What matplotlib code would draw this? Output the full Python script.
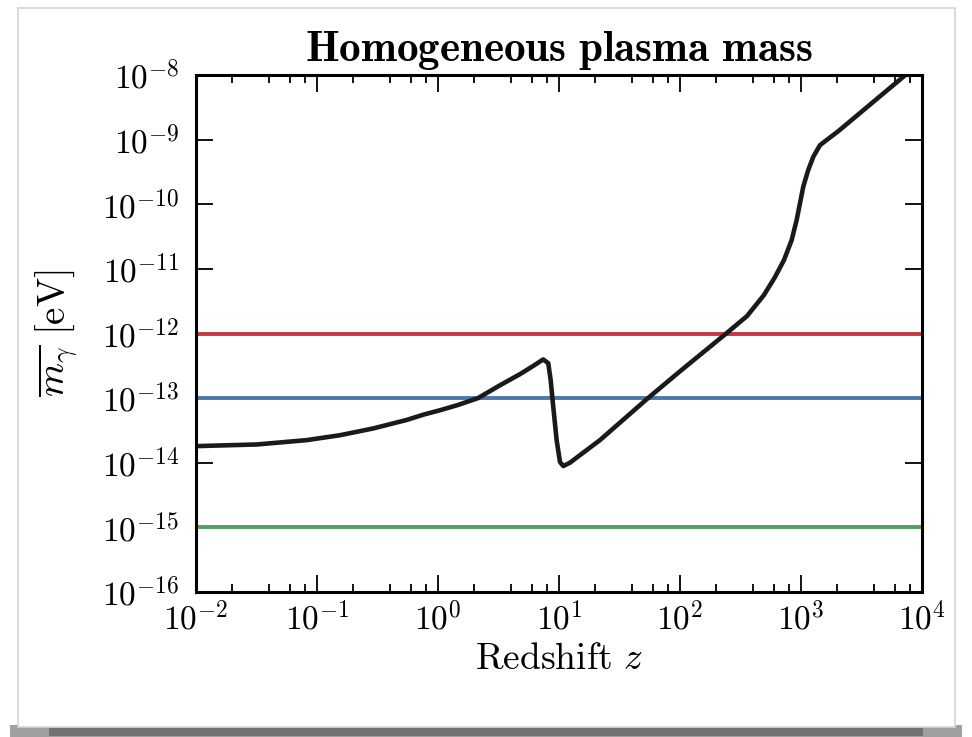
import numpy as np
import matplotlib
matplotlib.use("Agg")
import matplotlib.pyplot as plt
from matplotlib import ticker
from matplotlib.patches import Rectangle

plt.rcParams['mathtext.fontset'] = 'cm'
plt.rcParams['font.family'] = 'serif'
plt.rcParams['font.serif'] = ['DejaVu Serif']

# plasma mass curve
z = [0.01, 0.0318, 0.082, 0.155, 0.292, 0.551, 0.77, 1.04, 1.45, 2.14, 3.25,
     4.76, 6.13, 7.41, 8.16, 8.54, 8.97, 9.57, 10.2, 10.86, 12.3, 21.8, 54.4,
     100, 244, 358, 494, 610, 724, 838, 921, 981, 1045, 1148, 1265, 1435, 1737,
     2033, 6970, 8500]
m_gamma = [1.81e-14, 1.92e-14, 2.24e-14, 2.67e-14, 3.40e-14, 4.6e-14, 5.6e-14,
           6.5e-14, 7.8e-14, 1.0e-13, 1.58e-13, 2.35e-13, 3.15e-13, 3.98e-13,
           3.47e-13, 1.91e-13, 7.4e-14, 2.24e-14, 1.03e-14, 8.9e-15, 1.0e-14,
           2.24e-14, 1.0e-13, 2.6e-13, 1.02e-12, 1.86e-12, 3.93e-12, 7.46e-12,
           1.37e-11, 2.79e-11, 5.69e-11, 1.03e-10, 1.87e-10, 3.38e-10, 5.43e-10,
           8.2e-10, 1.08e-9, 1.35e-9, 9.3e-9, 1.25e-8]

# reference mass levels
levels = [1e-12, 1e-13, 1e-15]
level_colors = ['#C8383F', '#4C78AC', '#55A05A']

fig = plt.figure(figsize=(9.72, 7.37), dpi=100)

# screenshot frame and shadow
fig.patches.append(Rectangle((0.01, 0.0), 0.98, 0.016, transform=fig.transFigure,
                             facecolor='#a0a0a0', edgecolor='none', zorder=0))
fig.patches.append(Rectangle((0.05, 0.002), 0.90, 0.01, transform=fig.transFigure,
                             facecolor='#727272', edgecolor='none', zorder=0))
fig.patches.append(Rectangle((0.0185, 0.0136), 0.964, 0.9755, transform=fig.transFigure,
                             facecolor='white', edgecolor='#d4d4d4', lw=1.2, zorder=1))

ax = fig.add_axes([0.2016, 0.1967, 0.7469, 0.7015])
ax.set_zorder(2)

for lev, c in zip(levels, level_colors):
    ax.axhline(lev, color=c, lw=2.8)
ax.plot(z, m_gamma, color='#1a1a1a', lw=3.3, solid_joinstyle='round')

ax.set_xscale('log')
ax.set_yscale('log')
ax.set_xlim(1e-2, 1e4)
ax.set_ylim(1e-16, 1e-8)

fmt = ticker.FuncFormatter(lambda v, p: r'$10^{%d}$' % round(np.log10(v)))
ax.xaxis.set_major_formatter(fmt)
ax.yaxis.set_major_formatter(fmt)
ax.xaxis.set_major_locator(ticker.LogLocator(base=10, numticks=20))
ax.yaxis.set_major_locator(ticker.LogLocator(base=10, numticks=20))
ax.xaxis.set_minor_locator(ticker.LogLocator(base=10, subs=[2, 4, 6, 8], numticks=20))
ax.yaxis.set_minor_locator(ticker.NullLocator())

ax.tick_params(which='both', direction='in', top=True, right=True, labelsize=24, width=1.3)
ax.tick_params(which='major', length=12)
ax.tick_params(which='minor', length=6)
ax.tick_params(axis='x', which='major', pad=7)
ax.tick_params(axis='y', which='major', pad=12)
for s in ax.spines.values():
    s.set_linewidth(2.2)

ax.set_xlabel(r'$\mathrm{Redshift}\ z$', fontsize=27, labelpad=3)
ax.set_ylabel(r'$\overline{m_\gamma}\ [\mathrm{eV}]$', fontsize=28, labelpad=16)
ax.set_title(r'$\mathbf{Homogeneous\ plasma\ mass}$', fontsize=31, pad=10)

fig.savefig('out.png', dpi=100)
